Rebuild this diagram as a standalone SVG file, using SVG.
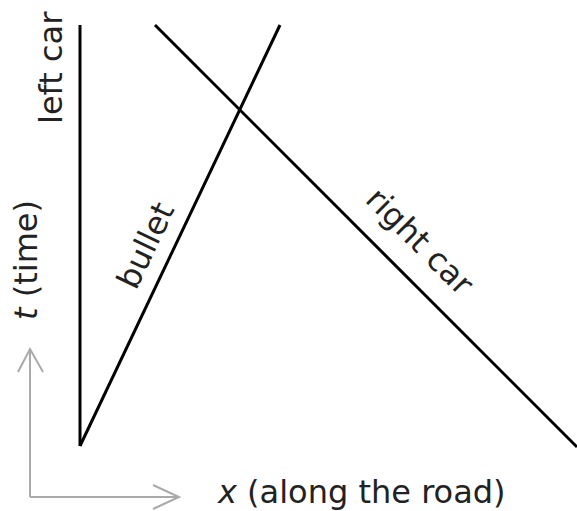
<svg xmlns="http://www.w3.org/2000/svg" width="577" height="511" viewBox="0 0 577 511">
<style>
.wl{stroke:#000;stroke-width:3;fill:none;stroke-linecap:butt}
.ax{stroke:#aaa;stroke-width:2;fill:none}
text{font-family:"DejaVu Sans","Verdana",sans-serif;font-size:32px;fill:#222}
</style>
<rect width="577" height="511" fill="#fff"/>
<g id="axes">
<path class="ax" d="M30,497 V349 M18,372 L30,349 L43,372"/>
<path class="ax" d="M30,497 H179 M153,485 L179,497 L153,509"/>
<text x="218" y="503"><tspan font-style="italic">x</tspan> (along the road)</text>
<text transform="translate(37,320) rotate(-90)"><tspan font-style="italic">t</tspan> (time)</text>
</g>
<g id="connectors">
<g id="left-car">
<line class="wl" x1="80" y1="25" x2="80" y2="446"/>
<text transform="translate(62,124) rotate(-90)">left car</text>
</g>
<g id="bullet">
<line class="wl" x1="80" y1="446" x2="280" y2="25"/>
<text transform="translate(136,291) rotate(-64.5)">bullet</text>
</g>
<g id="right-car">
<line class="wl" x1="155" y1="25" x2="577" y2="447"/>
<text transform="translate(364,201) rotate(45)">right car</text>
</g>
</g>
</svg>
